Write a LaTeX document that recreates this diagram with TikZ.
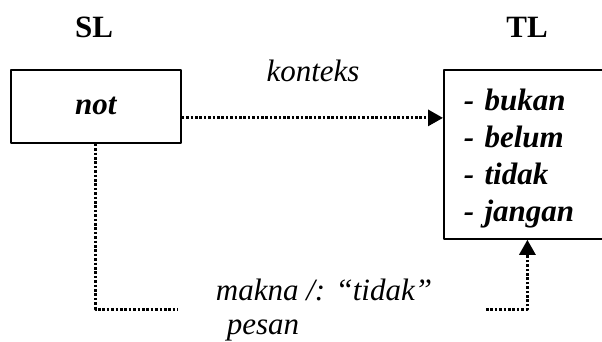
\documentclass[tikz,border=0pt]{standalone}
\usepackage{fontspec}
\setmainfont{Liberation Serif}
\usetikzlibrary{arrows.meta}
\begin{document}
\begin{tikzpicture}[x=1pt,y=-1pt,>={Triangle[length=15pt,width=16pt]},line join=round,font=\fontsize{31}{37}\selectfont]
	\tikzset{
		box/.style={draw,line width=1.8pt,inner sep=0pt},
		dotline/.style={line width=3pt,dash pattern=on 2.6pt off 1.8pt},
		lbl/.style={anchor=base,inner sep=0pt},
	}
	\useasboundingbox (0,0) rectangle (602,342);
	\node[box,minimum width=170pt,minimum height=73pt,anchor=north west] (src) at (10,69) {\bfseries\itshape not};
	\node[box,minimum width=167pt,minimum height=169pt,anchor=north west,align=left,text width=127pt,inner xsep=20pt] (tgt) at (443,69)
		{\bfseries\itshape\rule{0pt}{30.7pt}- bukan\\- belum\\- tidak\\- jangan};
	\node[lbl] (sl) at (94,38) {\bfseries SL};
	\node[lbl] (tl) at (527,38) {\bfseries TL};
	\node[lbl] (kon) at (313,82) {\itshape konteks};
	\node[lbl] (mak) at (324,300) {\itshape makna /: “tidak”};
	\node[lbl] (pes) at (263,334) {\itshape pesan};
	% connectors
	\path (src.east) ++(0,11.5) coordinate (kA);
	\draw[dotline,->] (kA) -- (kA -| tgt.west);
	\coordinate (mL) at (178,309);
	\coordinate (mR) at (486,309);
	\draw[dotline] (src.south) |- (mL);
	\draw[dotline,->] (mR) -| (tgt.south);
\end{tikzpicture}
\end{document}
